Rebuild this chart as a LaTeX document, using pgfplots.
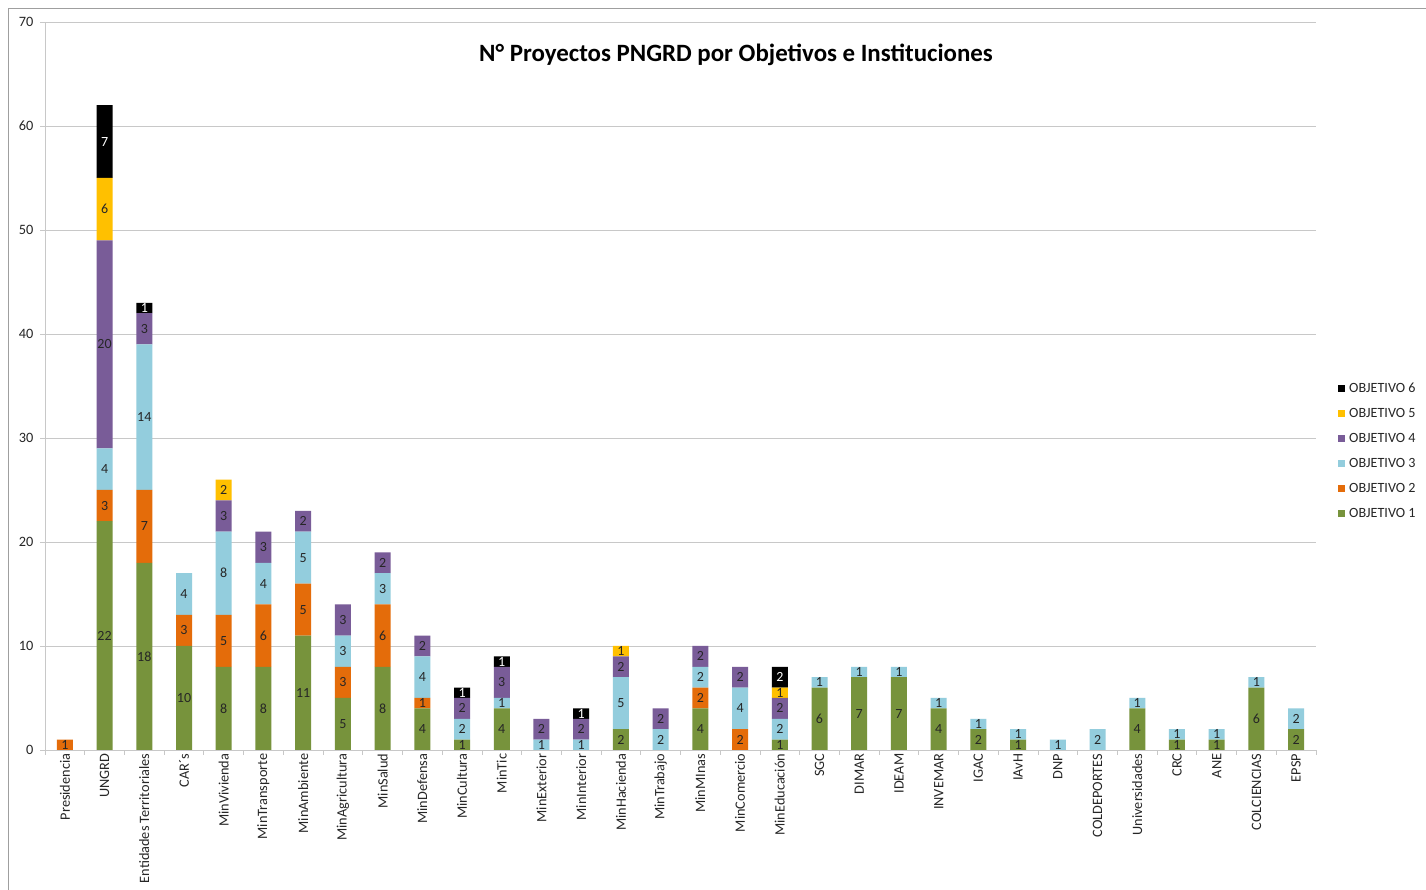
\documentclass[border=0pt]{standalone}
\usepackage{pgfplots}
\pgfplotsset{compat=1.18}
\usepackage{pgfplotstable}
\usepackage{fontspec}
\setmainfont{Carlito}
\definecolor{oA}{HTML}{77933C}
\definecolor{oB}{HTML}{E46C0A}
\definecolor{oC}{HTML}{93CDDD}
\definecolor{oD}{HTML}{795C98}
\definecolor{oE}{HTML}{FFC000}
\definecolor{oF}{HTML}{000000}
\definecolor{gridc}{HTML}{C8C8C8}
\definecolor{txt}{HTML}{262626}

\pgfplotstableread{
x o1 o2 o3 o4 o5 o6
0 0 1 0 0 0 0
1 22 3 4 20 6 7
2 18 7 14 3 0 1
3 10 3 4 0 0 0
4 8 5 8 3 2 0
5 8 6 4 3 0 0
6 11 5 5 2 0 0
7 5 3 3 3 0 0
8 8 6 3 2 0 0
9 4 1 4 2 0 0
10 1 0 2 2 0 1
11 4 0 1 3 0 1
12 0 0 1 2 0 0
13 0 0 1 2 0 1
14 2 0 5 2 1 0
15 0 0 2 2 0 0
16 4 2 2 2 0 0
17 0 2 4 2 0 0
18 1 0 2 2 1 2
19 6 0 1 0 0 0
20 7 0 1 0 0 0
21 7 0 1 0 0 0
22 4 0 1 0 0 0
23 2 0 1 0 0 0
24 1 0 1 0 0 0
25 0 0 1 0 0 0
26 0 0 2 0 0 0
27 4 0 1 0 0 0
28 1 0 1 0 0 0
29 1 0 1 0 0 0
30 6 0 1 0 0 0
31 2 0 2 0 0 0
}\datatable

\begin{document}
\begin{tikzpicture}
\path[use as bounding box] (0,0) rectangle (1426pt,890pt);
\fill[white] (0,0) rectangle (1426pt,890pt);
\draw[gray!75, line width=0.8pt] (8pt,0) -- (8pt,882pt) -- (1426pt,882pt);
\begin{axis}[
  at={(45pt,140pt)}, anchor=south west,
  scale only axis, width=1271pt, height=728pt,
  ybar stacked, bar width=16pt,
  xmin=-0.5, xmax=31.5, ymin=0, ymax=70,
  ytick={0,10,...,70},
  /pgf/number format/assume math mode=true,
  xtick={-0.5,0.5,...,31.5}, xticklabels={},
  extra x ticks={0,1,...,31},
  extra x tick labels={Presidencia,UNGRD,Entidades Territoriales,CAR´s,MinVivienda,MinTransporte,MinAmbiente,MinAgricultura,MinSalud,MinDefensa,MinCultura,MinTic,MinExterior,MinInterior,MinHacienda,MinTrabajo,MinMInas,MinComercio,MinEducación,SGC,DIMAR,IDEAM,INVEMAR,IGAC,IAvH,DNP,COLDEPORTES,Universidades,CRC,ANE,COLCIENCIAS,EPSP},
  extra x tick style={major tick length=0pt, grid=none},
  xticklabel style={rotate=90, anchor=east, font=\fontsize{14.3}{16}\selectfont, text=txt, inner sep=3.5pt},
  yticklabel style={font=\fontsize{14.3}{16}\selectfont, text=txt, xshift=-3pt},
  tick align=outside, major tick length=5pt,
  tick style={gridc, line width=0.8pt},
  axis x line*=bottom, axis y line*=left,
  axis line style={gridc, line width=0.9pt},
  ymajorgrids, grid style={gridc, line width=0.9pt},
  title={\textbf{N° Proyectos PNGRD por Objetivos e Instituciones}},
  title style={at={(axis description cs:0.5437,0.937)}, anchor=base, font=\fontsize{24.9}{28}\selectfont},
  legend style={at={(axis description cs:1.0173,0.5055)}, anchor=north west, draw=none, fill=none,
     font=\fontsize{14.1}{16}\selectfont, text=txt, inner sep=0pt,
     nodes={inner sep=0pt, text height=10pt, text depth=2.5pt},
     row sep=12.5pt, /tikz/every odd column/.append style={column sep=4pt}},
  legend cell align=left,
  reverse legend,
  legend image code/.code={\fill[#1] (0pt,-3.5pt) rectangle (7pt,3.5pt);},
  every axis plot/.append style={draw=none},
  nodes near coords={\pgfmathfloatifflags{\pgfplotspointmeta}{0}{}{\pgfmathprintnumber{\pgfplotspointmeta}}},
  every node near coord/.append style={
    font=\fontsize{14}{16}\selectfont, text=txt, anchor=center, inner sep=0pt},
]
\addplot[fill=oA] table[x=x,y=o1] {\datatable};
\addplot[fill=oB] table[x=x,y=o2] {\datatable};
\addplot[fill=oC] table[x=x,y=o3] {\datatable};
\addplot[fill=oD] table[x=x,y=o4] {\datatable};
\addplot[fill=oE] table[x=x,y=o5] {\datatable};
\addplot[fill=oF, every node near coord/.append style={text=white}] table[x=x,y=o6] {\datatable};
\legend{OBJETIVO 1,OBJETIVO 2,OBJETIVO 3,OBJETIVO 4,OBJETIVO 5,OBJETIVO 6}
\end{axis}
\end{tikzpicture}
\end{document}
